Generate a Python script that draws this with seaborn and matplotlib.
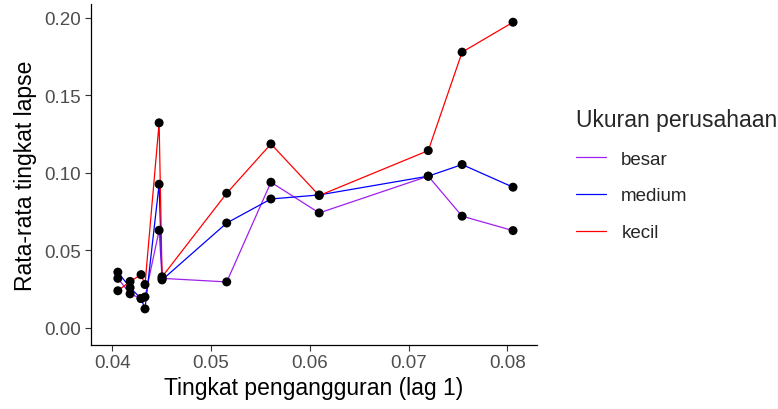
import matplotlib
matplotlib.use("Agg")
import matplotlib.pyplot as plt
import seaborn as sns
import pandas as pd

sns.set_theme(style="white")
plt.rcParams['font.family'] = ['Liberation Sans', 'DejaVu Sans']

unemp = [0.04055, 0.04179, 0.0429, 0.0433, 0.04473, 0.04503,
         0.05158, 0.05606, 0.06095, 0.0720, 0.07543, 0.08059]
besar = [0.032, 0.022, 0.019, 0.020, 0.063, 0.032,
         0.0297, 0.094, 0.0742, 0.0979, 0.0721, 0.0628]
medium = [0.036, 0.026, 0.019, 0.0123, 0.0927, 0.031,
          0.0677, 0.0832, 0.0858, 0.0979, 0.1054, 0.0908]
kecil = [0.024, 0.030, 0.0344, 0.028, 0.1323, 0.033,
         0.0869, 0.1187, 0.0854, 0.1144, 0.1779, 0.1972]
sizes = ["besar", "medium", "kecil"]
palette = {"besar": "#A020F0", "medium": "#0000FF", "kecil": "#FF0000"}

df = pd.concat([
    pd.DataFrame({"x": unemp, "y": vals, "size": name})
    for name, vals in zip(sizes, [besar, medium, kecil])
], ignore_index=True)

fig = plt.figure(figsize=(7.78, 4.10), dpi=100)
ax = fig.add_axes([0.1166, 0.1568, 0.5734, 0.8312])

sns.lineplot(data=df, x="x", y="y", hue="size", hue_order=sizes,
             palette=palette, linewidth=0.9, ax=ax, sort=True,
             estimator=None, legend=True)
sns.scatterplot(data=df, x="x", y="y", color="black", s=42,
                edgecolor="none", ax=ax, legend=False, zorder=5)

ax.set_xlim(0.0378, 0.0830)
ax.set_ylim(-0.0108, 0.209)
ax.set_xticks([0.04, 0.05, 0.06, 0.07, 0.08])
ax.set_xticklabels(["0.04", "0.05", "0.06", "0.07", "0.08"])
ax.set_yticks([0.0, 0.05, 0.10, 0.15, 0.20])
ax.set_yticklabels(["0.00", "0.05", "0.10", "0.15", "0.20"])
ax.set_xlabel("Tingkat pengangguran (lag 1)", fontsize=16.5, color="black",
              labelpad=3)
ax.set_ylabel("Rata-rata tingkat lapse", fontsize=16.5, color="black",
              labelpad=5)
ax.tick_params(axis="both", labelsize=13.5, labelcolor="#4D4D4D",
               color="#333333", length=4, width=0.8, direction="out",
               bottom=True, left=True, pad=3)
for s in ["top", "right"]:
    ax.spines[s].set_visible(False)
for s in ["left", "bottom"]:
    ax.spines[s].set_color("black")
    ax.spines[s].set_linewidth(0.9)

handles, labels = ax.get_legend_handles_labels()
ax.legend(handles=handles, labels=labels, title="Ukuran perusahaan",
          loc="upper left", bbox_to_anchor=(0.719, 0.776),
          bbox_transform=fig.transFigure, frameon=False,
          fontsize=13.5, title_fontsize=16.5, handlelength=1.6,
          handletextpad=0.8, labelspacing=1.05, alignment="left")

fig.savefig("out.png", dpi=100)
